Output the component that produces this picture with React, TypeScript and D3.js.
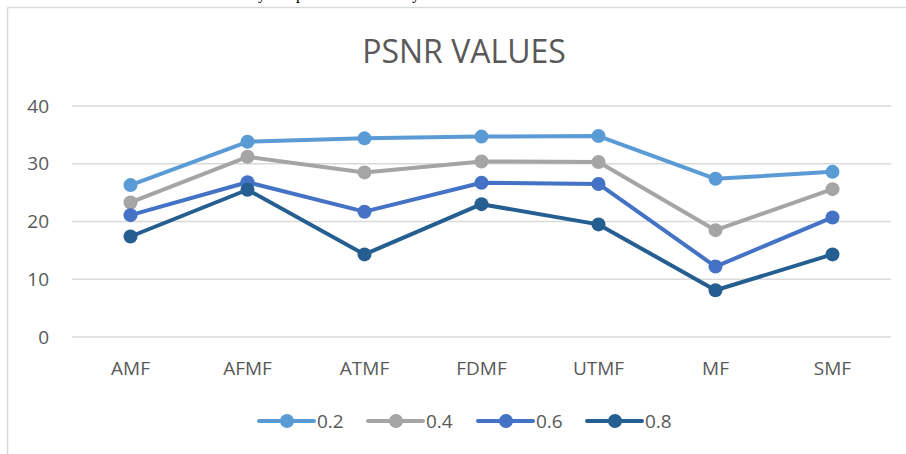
import * as d3 from 'd3';
import React from 'react';

// chart data
const categories = ['AMF', 'AFMF', 'ATMF', 'FDMF', 'UTMF', 'MF', 'SMF'];
const seriesNames = ['0.2', '0.4', '0.6', '0.8'];
const values02 = [26.3, 33.8, 34.4, 34.7, 34.8, 27.4, 28.6];
const values04 = [23.3, 31.2, 28.5, 30.4, 30.3, 18.5, 25.6];
const values06 = [21.1, 26.8, 21.7, 26.7, 26.5, 12.2, 20.7];
const values08 = [17.4, 25.5, 14.3, 23.0, 19.5, 8.1, 14.3];
const yTicks = [0, 10, 20, 30, 40];
const title = 'PSNR VALUES';

const colors = ['#5B9BD5', '#A5A5A5', '#4472C4', '#255E91'];

const App = () => {
  const width = 906;
  const height = 454;
  const plot = { left: 72, right: 891, top: 106, bottom: 337 };

  const series = [values02, values04, values06, values08];

  const xScale = d3.scaleBand<string>()
    .domain(categories)
    .range([plot.left, plot.right]);
  const yScale = d3.scaleLinear()
    .domain([0, 40])
    .range([plot.bottom, plot.top]);

  const cx = (c: string) => (xScale(c) ?? 0) + xScale.bandwidth() / 2;

  const line = d3.line<number>()
    .x((_, i) => cx(categories[i]))
    .y(d => yScale(d));

  const font = "'Open Sans', sans-serif";
  const textColor = '#595959';

  // legend layout
  const legendX = d3.scaleOrdinal<string, number>()
    .domain(seriesNames)
    .range([259, 368, 478, 587]);
  const legendY = 421;

  return (
    <svg width={width} height={height} style={{ position: 'absolute', left: 0, top: 0, background: '#fff' }}>
      {/* cut-off text from the page above */}
      <text y={-1.5} fontFamily="'Liberation Serif', serif" fontSize={16} fill="#000">
        <tspan x={258}>y</tspan>
        <tspan x={296}>p</tspan>
        <tspan x={412}>y</tspan>
      </text>

      {/* chart frame */}
      <line x1={7.5} x2={906} y1={7.5} y2={7.5} stroke="#D9D9D9" strokeWidth={1.5} />
      <line x1={7.5} x2={7.5} y1={7.5} y2={454} stroke="#D9D9D9" strokeWidth={1.5} />

      <text x={464} y={63} textAnchor="middle" fontFamily={font} fontSize={32} fill={textColor}>
        {title}
      </text>

      {/* gridlines + y labels */}
      {yTicks.map(t => (
        <g key={t}>
          <line x1={plot.left} x2={plot.right} y1={yScale(t)} y2={yScale(t)} stroke="#D9D9D9" strokeWidth={1.3} />
          <text x={49} y={yScale(t)} dy="0.35em" textAnchor="end" fontFamily={font} fontSize={19} fill={textColor}>
            {t}
          </text>
        </g>
      ))}

      {/* x labels */}
      {categories.map(c => (
        <text key={c} x={cx(c)} y={375} textAnchor="middle" fontFamily={font} fontSize={19} fill={textColor}>
          {c}
        </text>
      ))}

      {/* lines */}
      {series.map((s, si) => (
        <g key={seriesNames[si]}>
          <path d={line(s) ?? ''} fill="none" stroke={colors[si]} strokeWidth={4} strokeLinejoin="round" strokeLinecap="round" />
          {s.map((v, i) => (
            <circle key={i} cx={cx(categories[i])} cy={yScale(v)} r={7} fill={colors[si]} />
          ))}
        </g>
      ))}

      {/* legend */}
      {seriesNames.map((n, si) => {
        const x0 = legendX(n);
        return (
          <g key={n}>
            <line x1={x0} x2={x0 + 55} y1={legendY} y2={legendY} stroke={colors[si]} strokeWidth={4} strokeLinecap="round" />
            <circle cx={x0 + 28} cy={legendY} r={7} fill={colors[si]} />
            <text x={x0 + 58} y={legendY} dy="0.35em" fontFamily={font} fontSize={19} fill={textColor}>
              {n}
            </text>
          </g>
        );
      })}
    </svg>
  );
};

export default App;
